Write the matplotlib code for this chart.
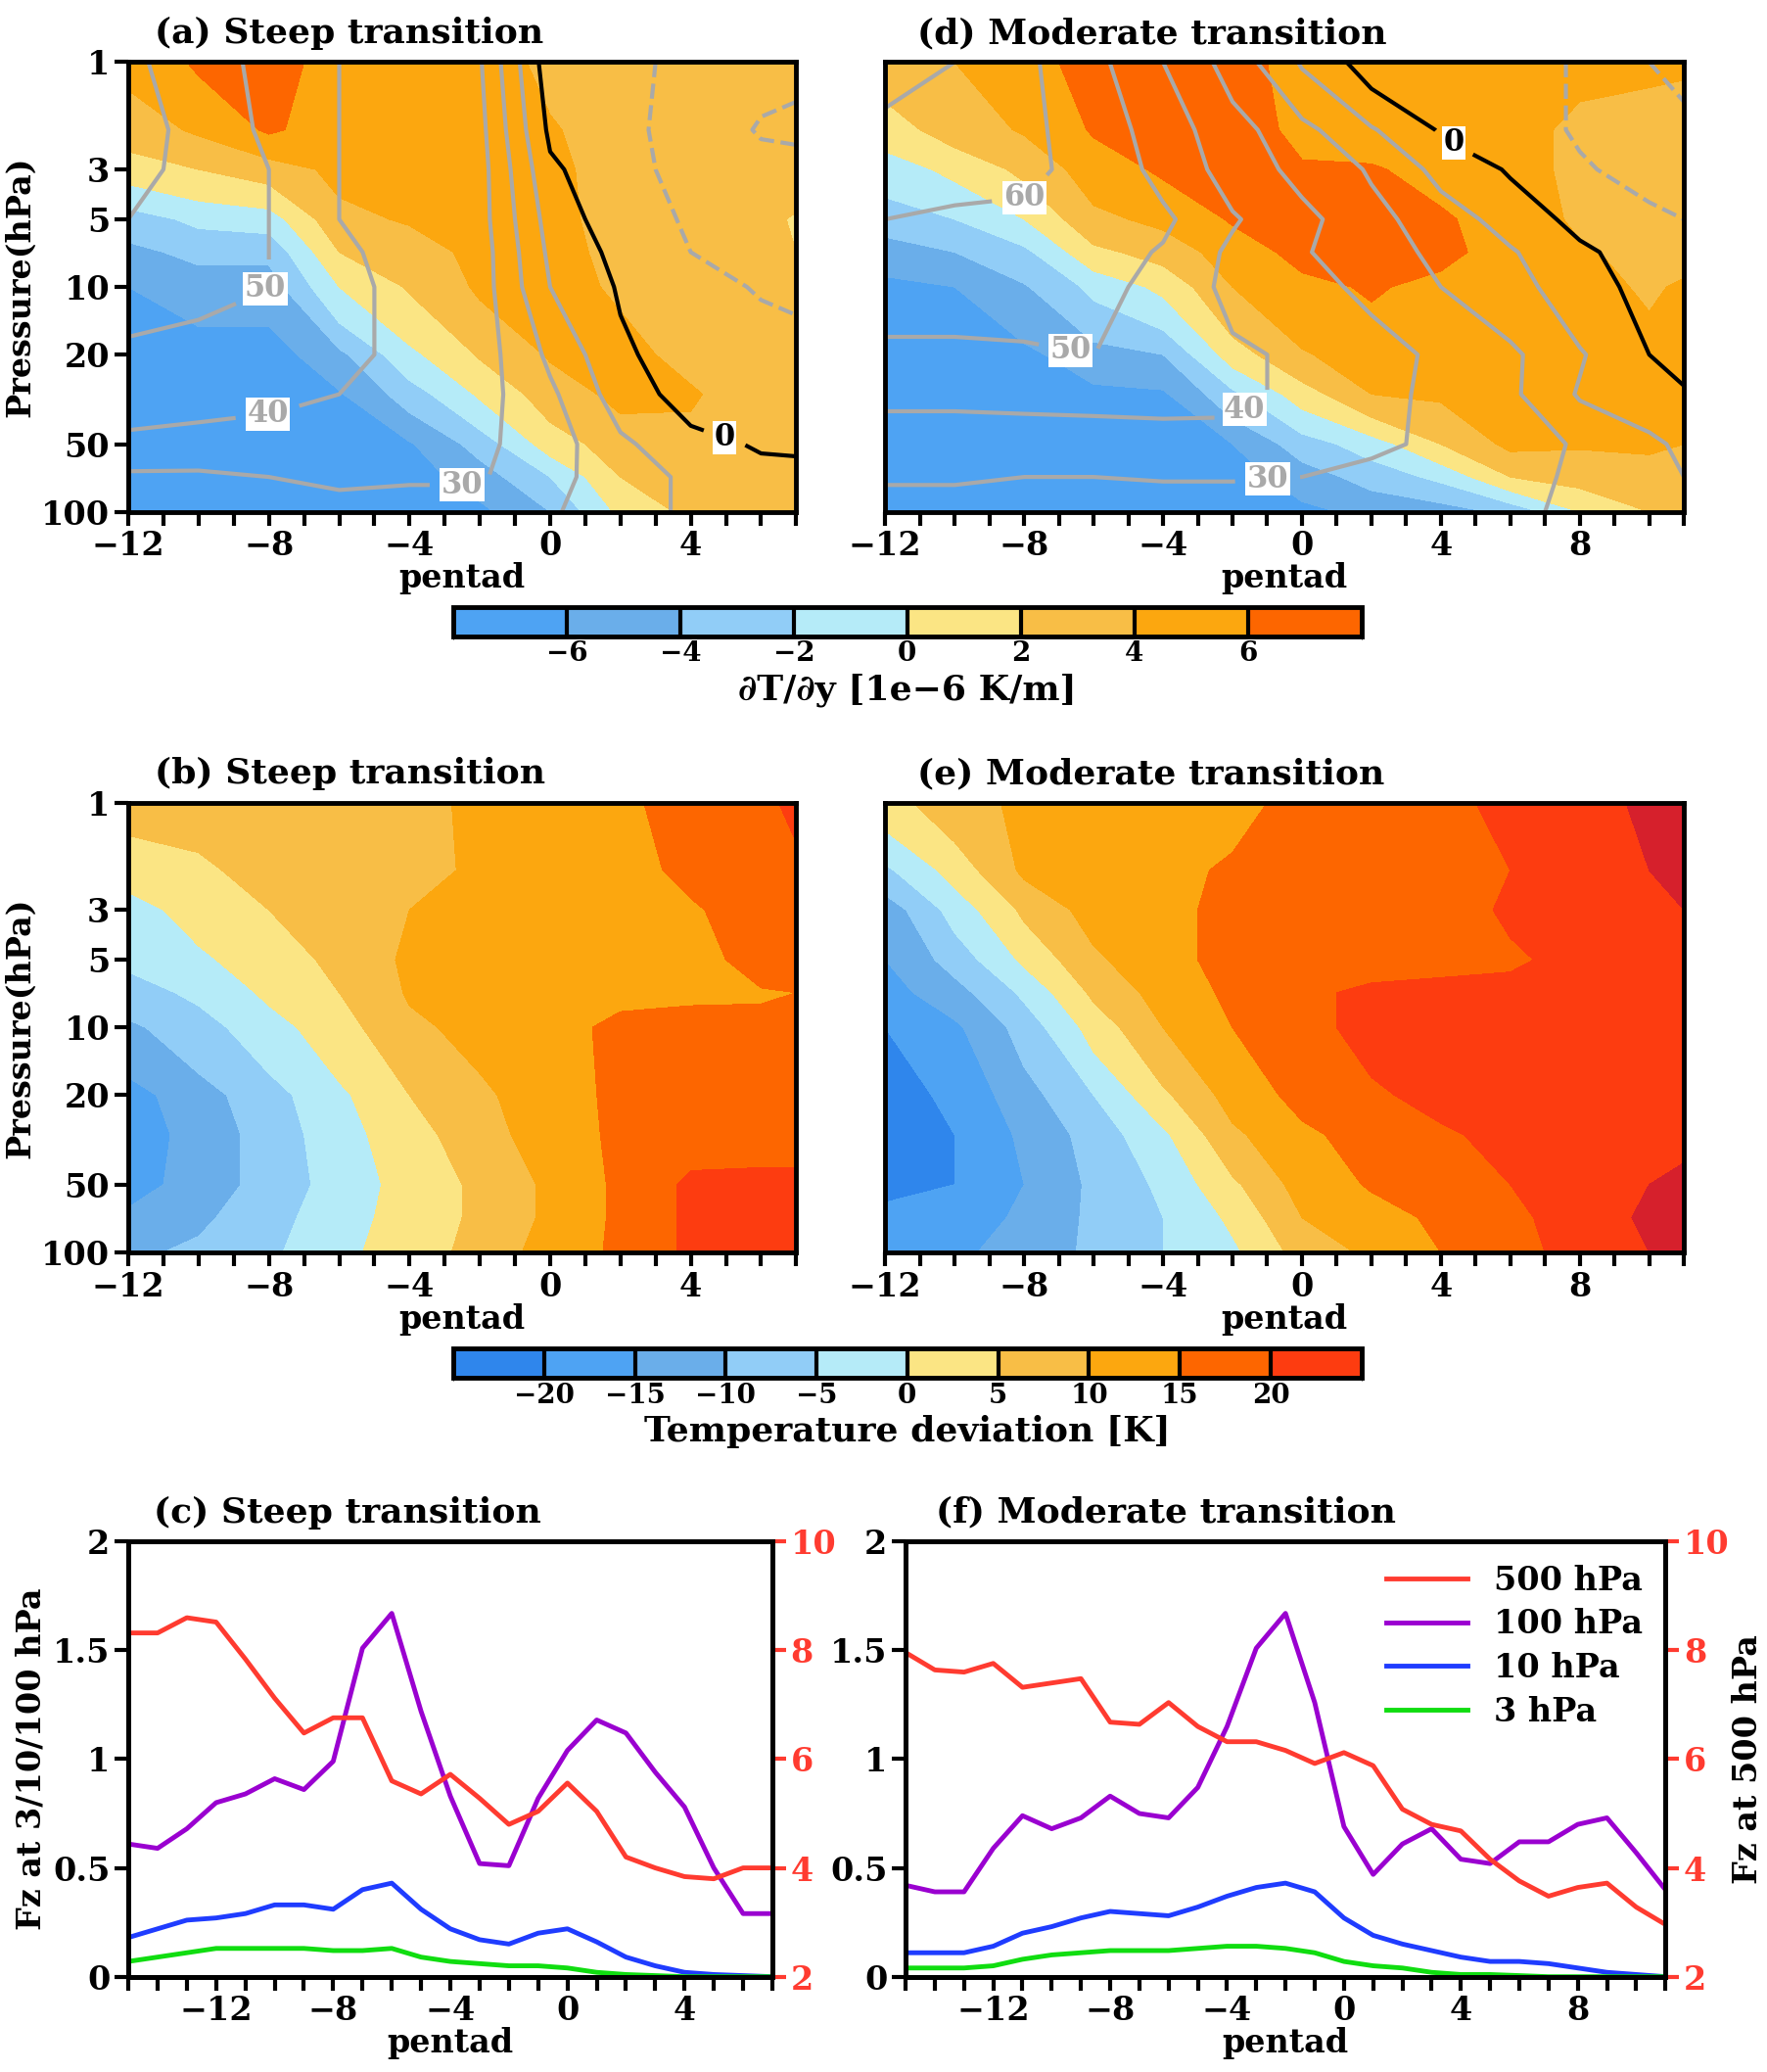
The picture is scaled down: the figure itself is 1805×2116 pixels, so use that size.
import numpy as np
import matplotlib
matplotlib.use("Agg")
import matplotlib.pyplot as plt
from matplotlib.colors import ListedColormap, BoundaryNorm

plt.rcParams['font.family'] = ['DejaVu Serif']
plt.rcParams['font.weight'] = 'bold'
plt.rcParams['axes.titleweight'] = 'bold'
plt.rcParams['axes.labelweight'] = 'bold'

# ---- grids ----
plev = [1, 2, 3, 5, 7, 10, 20, 30, 50, 70, 100]
pent_s = [-12, -10, -8, -6, -4, -2, 0, 2, 4, 6, 7]
pent_m = [-12, -10, -8, -6, -4, -2, 0, 2, 4, 6, 8, 10, 11]

# dT/dy [1e-6 K/m], steep (rows = plev, cols = pent_s)
dtdy_s = [
    [4.5, 6.3, 6.5, 5.5, 5.0, 5.0, 3.5, 3.0, 3.0, 3.0, 3.0],
    [3.0, 4.3, 6.3, 5.0, 5.0, 5.0, 4.2, 3.0, 3.0, 3.0, 3.0],
    [1.0, 2.0, 3.0, 4.5, 4.8, 5.0, 4.5, 3.1, 3.0, 3.0, 3.0],
    [-3.0, -1.5, -1.0, 3.5, 4.2, 4.8, 4.6, 3.2, 3.0, 2.5, 1.8],
    [-4.5, -3.5, -3.5, 2.0, 3.0, 4.6, 4.6, 3.5, 3.0, 2.8, 2.0],
    [-6.0, -5.0, -5.0, 0.0, 2.2, 4.3, 4.5, 3.8, 3.0, 3.0, 2.8],
    [-7.0, -7.0, -7.0, -4.5, -0.5, 2.2, 4.2, 4.5, 3.5, 3.0, 3.0],
    [-7.0, -7.0, -7.0, -6.2, -3.0, 0.3, 3.0, 4.5, 4.2, 3.0, 3.0],
    [-7.0, -7.0, -7.0, -7.0, -6.2, -3.2, 1.0, 3.0, 3.5, 3.0, 3.0],
    [-7.0, -7.0, -7.0, -7.0, -7.0, -5.0, -2.0, 2.0, 3.0, 3.0, 3.0],
    [-7.0, -7.0, -7.0, -7.0, -7.0, -6.5, -4.0, 0.5, 2.5, 3.0, 3.0],
]
# dT/dy, moderate (cols = pent_m)
dtdy_m = [
    [3.0, 4.0, 5.0, 7.0, 7.0, 7.0, 5.0, 4.5, 4.5, 4.5, 4.5, 4.3, 4.2],
    [1.0, 3.0, 4.2, 6.2, 7.0, 7.0, 5.5, 5.0, 5.0, 4.8, 3.5, 3.3, 3.2],
    [-1.0, 0.5, 2.5, 5.0, 6.3, 7.0, 6.2, 6.2, 5.3, 4.8, 3.5, 3.0, 3.0],
    [-3.0, -2.0, 0.0, 3.5, 4.5, 6.2, 6.6, 6.5, 6.3, 5.0, 3.7, 3.2, 3.0],
    [-5.0, -4.0, -2.5, 1.5, 2.8, 5.0, 6.6, 6.6, 6.5, 5.2, 4.2, 3.5, 3.5],
    [-6.5, -6.0, -4.2, -1.5, 0.5, 4.0, 5.5, 6.2, 5.5, 5.2, 4.5, 3.8, 4.2],
    [-7.0, -7.0, -6.5, -4.8, -4.0, 1.0, 3.8, 5.0, 5.0, 5.0, 4.8, 4.5, 4.5],
    [-7.0, -7.0, -7.0, -6.5, -6.3, -2.5, 1.0, 4.0, 4.3, 5.0, 4.5, 4.5, 4.5],
    [-7.0, -7.0, -7.0, -7.0, -7.0, -6.0, -3.0, -1.0, 2.0, 4.5, 4.2, 4.2, 4.0],
    [-7.0, -7.0, -7.0, -7.0, -7.0, -7.0, -5.0, -3.2, -1.5, 2.0, 2.8, 3.5, 3.5],
    [-7.0, -7.0, -7.0, -7.0, -7.0, -7.0, -6.5, -5.5, -5.0, -3.5, 0.0, 2.0, 3.0],
]
# zonal wind (gray contours), steep
uwind_s = [
    [62, 55, 47, 40, 35, 31, -6, -8, -12, -17, -18],
    [64, 57, 48, 40, 36, 33, -2, -8, -13, -21, -22],
    [63, 57, 50, 40, 37, 34, 2, -8, -12, -16, -16],
    [60, 55, 50, 40, 37, 34, 6, -6, -11, -14, -15],
    [57, 54, 50, 41, 38, 35, 8, -3, -10, -13, -14],
    [54, 52, 50, 42, 38, 35, 10, -1, -8, -10.5, -11],
    [48, 47, 46, 42, 38, 35, 18, 2, -6, -7, -8],
    [44, 43, 42, 40, 37, 34, 22, 5, -4, -5, -6],
    [38, 37, 36, 35, 33, 32, 25, 12, 3, -1, -1],
    [28, 28, 30, 32, 31, 31, 23, 15, 8, 3, 2],
    [24, 24, 25, 26, 26, 26, 21, 15, 8, 5, 5],
]
# zonal wind, moderate
uwind_m = [
    [57, 60, 62, 53, 40, 26, 9, -5, -6, -8, -10.5, -20, -22],
    [62, 62, 62, 56, 45, 34, 23, 11, -1, -6, -11, -16, -18],
    [63, 62, 62, 57, 47, 36, 27, 19, 7, -1, -9, -13, -14],
    [60, 59, 58, 57, 52, 41, 33, 23, 15, 6, -3, -8, -10],
    [57, 56, 56, 55, 49, 38, 31, 24, 18, 11, 2, -5, -7],
    [54, 54, 53, 52, 48, 37, 33, 28, 20, 14, 4, -3, -5],
    [48, 48, 49, 50, 46, 42, 38, 34, 28, 22, 11, 0, -3],
    [42, 42, 43, 43, 43, 42, 38, 34, 27, 22, 9, 5, 1],
    [35, 35, 34, 35, 36, 37, 35, 32, 28, 24, 19, 12, 8],
    [31, 31, 30, 30, 30.5, 30.5, 30, 27, 24, 22, 19, 13, 10],
    [26, 26, 26, 26, 26, 26, 25, 23, 22, 21, 19, 12, 10],
]
# temperature deviation [K]
temp_s = [
    [7, 7, 8, 8, 8.5, 11, 12, 14, 17, 19, 21],
    [2, 4, 7, 8, 9, 10.5, 12, 13.5, 16, 18, 19],
    [-2, 2, 5, 8, 10, 11, 12, 13, 14.5, 17, 18],
    [-4, -1, 3, 6, 11, 12, 12.5, 13.5, 14, 16, 16],
    [-7, -4, 1, 5, 10.5, 12, 13, 14, 14.5, 14.8, 15],
    [-11, -7, -2, 3, 9, 11.5, 13.5, 16, 16, 15.5, 15.5],
    [-17, -12, -7, -1, 5, 9, 13, 16, 17, 17, 17],
    [-18, -13, -8, -2, 3, 8, 12.5, 16, 18, 18.5, 18.5],
    [-17, -13, -8, -3, 2, 6, 11, 16, 21, 21, 21],
    [-14, -11, -7, -2, 2, 6, 11, 16, 21, 21, 21],
    [-11, -9, -6, -1, 2, 7, 12, 16, 21, 21, 21],
]
temp_m = [
    [3, 8, 11, 12, 13, 14, 16, 17, 19, 21, 23, 26, 27],
    [-6, 2, 11, 12.5, 14, 15.5, 16.5, 17, 18, 20, 22, 25, 27],
    [-13, -3, 6, 12, 14, 16, 17, 17.5, 18.5, 20.5, 22, 24, 25],
    [-15, -8, 1, 9, 14, 16, 17, 18, 19, 19.5, 21, 22, 22],
    [-17, -12, -4, 6, 12, 16, 19, 21, 21, 21, 21, 21, 21],
    [-20, -16, -8, 2, 10, 15, 19, 21, 22, 22, 22, 22, 22],
    [-22, -19, -12, -5, 4, 12, 16.5, 19.5, 21, 22, 22, 22, 22],
    [-23, -20, -14, -8, -1, 9, 14, 17, 19.5, 21, 22, 23, 24],
    [-21, -20, -15, -9, -4, 4, 12, 15.5, 18, 20, 22, 25, 26],
    [-19, -18, -14, -9, -5, 1, 10, 13, 16, 19, 22, 26, 26],
    [-17, -16, -13, -9, -5, -1, 7, 11, 15, 18.5, 21.5, 25, 26],
]

# ---- Fz line data ----
pent_c = list(range(-15, 8))
fz100_c = [0.61, 0.59, 0.68, 0.80, 0.84, 0.91, 0.86, 0.99, 1.51, 1.67, 1.22, 0.83,
           0.52, 0.51, 0.82, 1.04, 1.18, 1.12, 0.94, 0.78, 0.50, 0.29, 0.29]
fz10_c = [0.18, 0.22, 0.26, 0.27, 0.29, 0.33, 0.33, 0.31, 0.40, 0.43, 0.31, 0.22,
          0.17, 0.15, 0.20, 0.22, 0.16, 0.09, 0.05, 0.02, 0.01, 0.005, 0.0]
fz3_c = [0.07, 0.09, 0.11, 0.13, 0.13, 0.13, 0.13, 0.12, 0.12, 0.13, 0.09, 0.07,
         0.06, 0.05, 0.05, 0.04, 0.02, 0.01, 0.005, 0.0, 0.0, 0.0, 0.0]
fz500_c = [8.32, 8.32, 8.6, 8.52, 7.84, 7.12, 6.48, 6.76, 6.76, 5.6, 5.36, 5.72,
           5.28, 4.8, 5.04, 5.56, 5.04, 4.2, 4.0, 3.84, 3.8, 4.0, 4.0]

pent_f = list(range(-15, 12))
fz100_f = [0.42, 0.39, 0.39, 0.59, 0.74, 0.68, 0.73, 0.83, 0.75, 0.73, 0.87, 1.15,
           1.51, 1.67, 1.26, 0.69, 0.47, 0.61, 0.68, 0.54, 0.52, 0.62, 0.62, 0.70,
           0.73, 0.57, 0.40]
fz10_f = [0.11, 0.11, 0.11, 0.14, 0.20, 0.23, 0.27, 0.30, 0.29, 0.28, 0.32, 0.37,
          0.41, 0.43, 0.39, 0.27, 0.19, 0.15, 0.12, 0.09, 0.07, 0.07, 0.06, 0.04,
          0.02, 0.01, 0.0]
fz3_f = [0.04, 0.04, 0.04, 0.05, 0.08, 0.10, 0.11, 0.12, 0.12, 0.12, 0.13, 0.14,
         0.14, 0.13, 0.11, 0.07, 0.05, 0.04, 0.02, 0.01, 0.01, 0.005, 0.0, 0.0,
         0.0, 0.0, 0.0]
fz500_f = [7.96, 7.64, 7.6, 7.76, 7.32, 7.4, 7.48, 6.68, 6.64, 7.04, 6.6, 6.32,
           6.32, 6.16, 5.92, 6.12, 5.88, 5.08, 4.8, 4.68, 4.16, 3.76, 3.48, 3.64,
           3.72, 3.28, 2.96]

# ---- colours ----
cols_g = ['#4ea3f3', '#6aaeea', '#91cdf7', '#b5ebf8', '#fbe584', '#f8be46', '#fca70f', '#fd6600']
lev_g = [-8, -6, -4, -2, 0, 2, 4, 6, 8]
cmap_g = ListedColormap(cols_g)
cmap_g.set_under(cols_g[0]); cmap_g.set_over(cols_g[-1])
norm_g = BoundaryNorm(lev_g, cmap_g.N)

cols_t = ['#2f86ec', '#4ea3f3', '#6aaeea', '#91cdf7', '#b5ebf8', '#fbe584', '#f8be46',
          '#fca70f', '#fd6600', '#fd3c10']
lev_t = [-25, -20, -15, -10, -5, 0, 5, 10, 15, 20, 25]
cmap_t = ListedColormap(cols_t)
cmap_t.set_under(cols_t[0]); cmap_t.set_over('#d6202c')
norm_t = BoundaryNorm(lev_t, cmap_t.N)

TS = 26
LS = 24
GRAY = '#a9a9a9'

fig = plt.figure(figsize=(18.05, 21.16), dpi=100)

def minus(v):
    return str(v).replace('-', '\u2212')

def frame(ax, xt, xmin, xmax):
    for s in ax.spines.values():
        s.set_linewidth(3.5)
    ax.set_xlim(xmin, xmax)
    ax.set_xticks(xt)
    ax.set_xticklabels([minus(v) for v in xt])
    ax.set_xticks(range(int(np.ceil(xmin)), int(xmax) + 1), minor=True)
    ax.tick_params(axis='both', which='major', labelsize=LS, width=3, length=10, direction='out')
    ax.tick_params(axis='x', which='minor', width=3, length=10, direction='out')
    ax.set_xlabel('pentad', fontsize=LS, labelpad=0)

def labelled(ax, X, P, U, lvl, pos, color):
    cs = ax.contour(X, P, U, levels=[lvl], colors=color, linewidths=3)
    ts = ax.clabel(cs, manual=[pos], fmt='%d', fontsize=22, colors=color, inline=True,
                   inline_spacing=12)
    for t in ts:
        t.set_rotation(0)
        t.set_fontweight('bold')
        t.set_bbox(dict(facecolor='white', edgecolor='none', pad=1))

def pressure_panel(ax, x, field, cmap, norm, lev, title, ylab, u=None, ulev=None, lab_pos=None):
    X, P = np.meshgrid(x, plev)
    ax.contourf(X, P, np.array(field), levels=lev, cmap=cmap, norm=norm, extend='both')
    ax.set_yscale('log')
    ax.set_ylim(100, 1)
    ax.set_yticks([1, 3, 5, 10, 20, 50, 100])
    ax.minorticks_off()
    frame(ax, [-12, -8, -4, 0, 4, 8] if x[-1] > 8 else [-12, -8, -4, 0, 4], x[0], x[-1])
    if ylab:
        ax.set_yticklabels(['1', '3', '5', '10', '20', '50', '100'])
        ax.set_ylabel('Pressure(hPa)', fontsize=LS)
    else:
        ax.set_yticklabels([])
        ax.tick_params(axis='y', length=0)
    ax.set_title(title, fontsize=TS, loc='left', x=0.04, pad=14)
    if u is not None:
        U = np.array(u)
        labl = [p[2] for p in lab_pos]
        rest = [l for l in ulev if l not in labl]
        cs = ax.contour(X, P, U, levels=rest, colors=GRAY, linewidths=3)
        cs.set_linestyles(['--' if l < 0 else '-' for l in cs.levels])
        for (px, pp, lvl) in lab_pos:
            labelled(ax, X, P, U, lvl, (px, pp), 'black' if lvl == 0 else GRAY)

ax_a = fig.add_axes([0.0726, 0.753, 0.378, 0.217])
pressure_panel(ax_a, pent_s, dtdy_s, cmap_g, norm_g, lev_g, '(a) Steep transition', True,
               uwind_s, [-20, -10, 0, 10, 20, 30, 40, 50, 60],
               [(-8, 11, 50), (-8, 40, 40), (-2.5, 62, 30), (5, 45, 0)])
ax_d = fig.add_axes([0.501, 0.753, 0.452, 0.217])
pressure_panel(ax_d, pent_m, dtdy_m, cmap_g, norm_g, lev_g, '(d) Moderate transition', False,
               uwind_m, [-20, -10, 0, 10, 20, 30, 40, 50, 60, 70],
               [(-7.5, 6.5, 60), (-6.8, 25, 50), (-1.5, 38, 40), (-1, 68, 30), (4.5, 2.1, 0)])

def colorbar(rect, cmap, norm, ticks, lev, label):
    cax = fig.add_axes(rect)
    sm = plt.cm.ScalarMappable(cmap=cmap, norm=norm)
    cb = fig.colorbar(sm, cax=cax, orientation='horizontal', ticks=ticks)
    cb.outline.set_linewidth(3.5)
    cax.tick_params(length=0, labelsize=20)
    cax.set_xticklabels([minus(v) for v in ticks])
    for v in lev[1:-1]:
        cax.axvline(v, color='black', lw=3)
    cb.set_label(label, fontsize=TS, fontweight='bold')

colorbar([0.2565, 0.693, 0.514, 0.0142], cmap_g, norm_g, [-6, -4, -2, 0, 2, 4, 6], lev_g,
         '\u2202T/\u2202y [1e\u22126 K/m]')

ax_b = fig.add_axes([0.0726, 0.3956, 0.378, 0.217])
pressure_panel(ax_b, pent_s, temp_s, cmap_t, norm_t, lev_t, '(b) Steep transition', True)
ax_e = fig.add_axes([0.501, 0.3956, 0.452, 0.217])
pressure_panel(ax_e, pent_m, temp_m, cmap_t, norm_t, lev_t, '(e) Moderate transition', False)

colorbar([0.2565, 0.335, 0.514, 0.0142], cmap_t, norm_t, [-20, -15, -10, -5, 0, 5, 10, 15, 20],
         lev_t, 'Temperature deviation [K]')

def fz_panel(rect, x, f100, f10, f3, f500, xt, title, left_lab, right_lab, legend):
    ax = fig.add_axes(rect)
    ax2 = ax.twinx()
    l500, = ax2.plot(x, f500, color='#ff3b30', lw=3.5)
    l100, = ax.plot(x, f100, color='#9a00d0', lw=3.5)
    l10, = ax.plot(x, f10, color='#1f3cff', lw=3.5)
    l3, = ax.plot(x, f3, color='#10dd10', lw=3.5)
    ax.set_ylim(0, 2)
    ax.set_yticks([0, 0.5, 1, 1.5, 2])
    ax.set_yticklabels(['0', '0.5', '1', '1.5', '2'])
    ax2.set_ylim(2, 10)
    ax2.set_yticks([2, 4, 6, 8, 10])
    frame(ax, xt, x[0], x[-1])
    ax2.tick_params(axis='y', labelsize=LS, width=3, length=10, colors='#ff3b30')
    for s in ax2.spines.values():
        s.set_linewidth(3.5)
    ax.set_title(title, fontsize=TS, loc='left', x=0.04, pad=14)
    if left_lab:
        ax.set_ylabel('Fz at 3/10/100 hPa', fontsize=LS)
    if right_lab:
        ax2.set_ylabel('Fz at 500 hPa', fontsize=LS, labelpad=2)
    if legend:
        ax.legend([l500, l100, l10, l3], ['500 hPa', '100 hPa', '10 hPa', '3 hPa'],
                  loc='upper right', frameon=False, handlelength=2.5,
                  prop={'size': LS, 'weight': 'bold'},
                  labelspacing=0.35, borderaxespad=0.3)
    return ax

fz_panel([0.0726, 0.046, 0.3645, 0.21], pent_c, fz100_c, fz10_c, fz3_c, fz500_c,
         [-12, -8, -4, 0, 4], '(c) Steep transition', True, False, False)
fz_panel([0.5125, 0.046, 0.43, 0.21], pent_f, fz100_f, fz10_f, fz3_f, fz500_f,
         [-12, -8, -4, 0, 4, 8], '(f) Moderate transition', False, True, True)

fig.savefig('out.png', dpi=100)
